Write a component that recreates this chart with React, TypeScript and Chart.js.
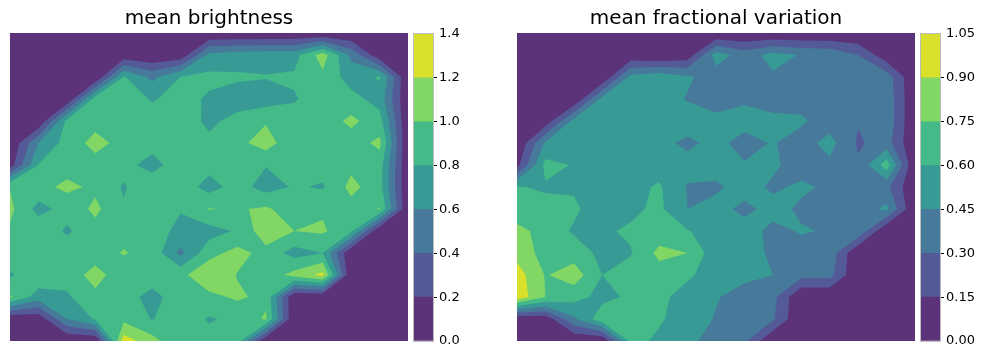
import { useEffect, useRef } from "react";
import { Chart, registerables } from "chart.js";

Chart.register(...registerables);

const bandColors = ["#5c3278", "#545a97", "#46799a", "#389a95", "#44ba88", "#82d664", "#d8e02c"];
const brightnessLevels = [0, 0.2, 0.4, 0.6, 0.8, 1.0, 1.2, 1.4];
const variationLevels = [0, 0.15, 0.3, 0.45, 0.6, 0.75, 0.9, 1.05];

const brightness: number[][] = [
  [0, 0, 0, 0, 0, 0, 0, 0, 0, 0, 0, 0, 0, 0, 0],
  [0, 0, 0, 0, 0.05, 0, 0.05, 0.65, 0.7, 0.72, 0.72, 1.1, 0.55, 0.05, 0],
  [0, 0, 0, 0, 0.82, 0.55, 0.8, 0.85, 0.83, 0.81, 0.83, 0.95, 0.71, 0.82, 0],
  [0, 0, 0, 0.9, 0.92, 0.78, 0.88, 0.77, 0.7, 0.7, 0.78, 0.92, 0.87, 0.72, 0],
  [0, 0, 0.85, 0.93, 0.93, 0.9, 0.93, 0.75, 0.87, 0.98, 0.9, 0.88, 1.05, 0.88, 0],
  [0, 0.6, 0.88, 1.07, 0.93, 0.88, 0.93, 0.85, 0.94, 1.1, 0.84, 0.92, 0.9, 1.05, 0],
  [0.1, 0.81, 0.91, 0.92, 0.87, 0.72, 0.92, 0.87, 0.93, 0.81, 0.92, 0.88, 0.95, 0.89, 0],
  [0.99, 0.93, 1.05, 0.96, 0.78, 0.95, 0.92, 0.72, 0.88, 0.72, 0.82, 0.78, 1.06, 0.88, 0],
  [1.05, 0.73, 0.87, 1.045, 0.82, 0.93, 0.82, 1.01, 0.98, 1.03, 0.9, 0.97, 0.92, 1.01, 0],
  [0.97, 0.95, 0.77, 0.93, 0.93, 0.93, 0.72, 0.72, 0.82, 1.13, 1.0, 1.03, 0.85, 0, 0],
  [0.93, 0.93, 0.92, 0.9, 1.015, 0.92, 0.55, 0.93, 1.07, 0.93, 0.72, 0.8, 0, 0, 0],
  [0.77, 0.95, 0.88, 1.08, 0.87, 0.95, 0.95, 1.15, 0.99, 0.88, 1.07, 1.26, 0, 0, 0],
  [1.03, 0.7, 0.77, 0.95, 0.92, 0.7, 0.96, 0.95, 1.03, 0.95, 0, 0, 0, 0, 0],
  [0.02, 0.05, 0.6, 0.82, 0.95, 0.79, 0.92, 0.78, 0.85, 1.03, 0, 0, 0, 0, 0],
  [0, 0, 0, 0, 1.3, 1.08, 0.82, 0.88, 0.9, 0, 0, 0, 0, 0, 0],
];

const fractionalVariation: number[][] = [
  [0, 0, 0, 0, 0, 0, 0, 0, 0, 0, 0, 0, 0, 0, 0],
  [0, 0, 0, 0, 0.03, 0, 0.05, 0.52, 0.38, 0.5, 0.44, 0.42, 0.3, 0.05, 0],
  [0, 0, 0, 0, 0.5, 0.55, 0.47, 0.38, 0.4, 0.43, 0.41, 0.4, 0.4, 0.38, 0],
  [0, 0, 0, 0.5, 0.54, 0.52, 0.44, 0.4, 0.43, 0.4, 0.4, 0.38, 0.4, 0.41, 0],
  [0, 0.05, 0.5, 0.55, 0.55, 0.55, 0.52, 0.48, 0.5, 0.48, 0.47, 0.38, 0.31, 0.41, 0],
  [0, 0.47, 0.56, 0.56, 0.55, 0.49, 0.42, 0.49, 0.4, 0.46, 0.39, 0.5, 0.28, 0.365, 0],
  [0.1, 0.65, 0.59, 0.55, 0.55, 0.53, 0.5, 0.5, 0.46, 0.47, 0.4, 0.42, 0.32, 0.68, 0],
  [0.61, 0.58, 0.58, 0.5, 0.55, 0.62, 0.44, 0.43, 0.5, 0.43, 0.47, 0.43, 0.38, 0.34, 0],
  [0.65, 0.65, 0.63, 0.5, 0.57, 0.63, 0.45, 0.49, 0.42, 0.49, 0.43, 0.4, 0.38, 0.48, 0],
  [0.8, 0.69, 0.58, 0.58, 0.62, 0.67, 0.61, 0.52, 0.5, 0.42, 0.46, 0.44, 0.42, 0, 0],
  [0.85, 0.69, 0.68, 0.56, 0.59, 0.79, 0.75, 0.5, 0.5, 0.43, 0.4, 0.4, 0, 0, 0],
  [0.97, 0.74, 0.83, 0.6, 0.66, 0.68, 0.62, 0.54, 0.48, 0.45, 0.35, 0.35, 0, 0, 0],
  [1.0, 0.75, 0.66, 0.55, 0.63, 0.63, 0.55, 0.46, 0.4, 0.35, 0, 0, 0, 0, 0],
  [0.02, 0.05, 0.42, 0.7, 0.68, 0.62, 0.52, 0.44, 0.38, 0.32, 0, 0, 0, 0, 0],
  [0, 0, 0, 0, 0.65, 0.57, 0.5, 0.37, 0.33, 0, 0, 0, 0, 0, 0],
];

const FONT = "'DejaVu Sans'";
type P = { x: number; y: number; v: number };

const cross = (a: P, b: P, level: number): P => {
  const t = (level - a.v) / (b.v - a.v);
  return { x: a.x + t * (b.x - a.x), y: a.y + t * (b.y - a.y), v: level };
};

function clip(poly: P[], level: number): P[] {
  const out: P[] = [];
  for (let i = 0; i < poly.length; i++) {
    const a = poly[i];
    const b = poly[(i + 1) % poly.length];
    const ain = a.v >= level;
    const bin = b.v >= level;
    if (ain) out.push(a);
    if (ain !== bin) out.push(cross(a, b, level));
  }
  return out;
}

// One grid cell cut at a level with straight lines between its edge crossings;
// the cell's mean value settles the two-way (saddle) case.
function cellPolygons(c: P[], level: number): P[][] {
  const inside = c.map((p) => p.v >= level);
  const saddle = inside[0] === inside[2] && inside[1] === inside[3] && inside[0] !== inside[1];
  if (saddle) {
    const mean = (c[0].v + c[1].v + c[2].v + c[3].v) / 4;
    if (mean < level) {
      const polys: P[][] = [];
      for (let s = 0; s < 4; s++) {
        if (!inside[s]) continue;
        polys.push([c[s], cross(c[s], c[(s + 1) % 4], level), cross(c[s], c[(s + 3) % 4], level)]);
      }
      return polys;
    }
  }
  const poly = clip(c, level);
  return poly.length < 3 ? [] : [poly];
}

function contourPlugin(grid: number[][], levels: number[]) {
  return {
    id: "filledContour",
    beforeDatasetsDraw(chart: any) {
      const { ctx, scales, chartArea } = chart;
      const px = (x: number) => scales.x.getPixelForValue(x);
      const py = (y: number) => scales.y.getPixelForValue(y);
      ctx.save();
      ctx.beginPath();
      ctx.rect(chartArea.left, chartArea.top, chartArea.width, chartArea.height);
      ctx.clip();
      ctx.fillStyle = bandColors[0];
      ctx.fillRect(chartArea.left, chartArea.top, chartArea.width, chartArea.height);
      for (let k = 1; k < levels.length - 1; k++) {
        const level = levels[k] - 1e-9;
        ctx.beginPath();
        for (let j = 0; j < grid.length - 1; j++) {
          for (let i = 0; i < grid[j].length - 1; i++) {
            const c: P[] = [
              { x: px(i), y: py(j), v: grid[j][i] },
              { x: px(i + 1), y: py(j), v: grid[j][i + 1] },
              { x: px(i + 1), y: py(j + 1), v: grid[j + 1][i + 1] },
              { x: px(i), y: py(j + 1), v: grid[j + 1][i] },
            ];
            for (const poly of cellPolygons(c, level)) {
              ctx.moveTo(poly[0].x, poly[0].y);
              for (let q = 1; q < poly.length; q++) ctx.lineTo(poly[q].x, poly[q].y);
              ctx.closePath();
            }
          }
        }
        ctx.fillStyle = bandColors[k];
        ctx.fill("nonzero");
      }
      ctx.restore();
    },
  };
}

function makePanel(canvas: HTMLCanvasElement, title: string, grid: number[][], levels: number[]) {
  const points = grid.flatMap((row, j) => row.map((v, i) => ({ x: i, y: j, v })));
  return new Chart(canvas, {
    type: "scatter",
    data: { datasets: [{ label: title, data: points, pointRadius: 0, pointHoverRadius: 0 }] },
    plugins: [contourPlugin(grid, levels)],
    options: {
      animation: false,
      responsive: false,
      layout: { padding: 0 },
      events: [],
      plugins: {
        legend: { display: false },
        tooltip: { enabled: false },
        title: {
          display: true,
          text: title,
          color: "#000",
          font: { family: FONT, size: 20, weight: "normal", lineHeight: 1.2 },
          padding: { top: 7, bottom: 2 },
        },
      },
      scales: {
        x: { type: "linear", display: false, min: 0, max: 14 },
        y: { type: "linear", display: false, min: 0, max: 14, reverse: true },
      },
    },
  } as any);
}

function makeColorbar(canvas: HTMLCanvasElement, levels: number[], digits: number, axisWidth: number) {
  const step = levels[1] - levels[0];
  const outline = {
    id: "barOutline",
    afterDatasetsDraw(chart: any) {
      const { ctx, chartArea: a } = chart;
      ctx.save();
      ctx.strokeStyle = "#bdbdbd";
      ctx.lineWidth = 1;
      ctx.strokeRect(a.left - 0.5, a.top - 0.5, a.width + 1, a.height + 1);
      ctx.restore();
    },
  };
  return new Chart(canvas, {
    type: "bar",
    data: {
      labels: ["band"],
      datasets: levels.slice(0, -1).map((lo, k) => ({
        label: `${lo}`,
        data: [[lo, levels[k + 1]]],
        backgroundColor: bandColors[k],
        borderWidth: 0,
        barPercentage: 1,
        categoryPercentage: 1,
      })),
    },
    plugins: [outline],
    options: {
      animation: false,
      responsive: false,
      events: [],
      layout: { padding: { top: 13, bottom: 12, left: 7, right: 0 } },
      plugins: { legend: { display: false }, tooltip: { enabled: false } },
      scales: {
        x: { display: false, stacked: true },
        y: {
          position: "right",
          min: levels[0],
          max: levels[levels.length - 1],
          afterFit: (s: any) => {
            s.width = axisWidth;
          },
          border: { display: false },
          grid: {
            drawOnChartArea: false,
            drawTicks: true,
            tickLength: 4,
            tickWidth: 1,
            color: (c: any) =>
              c.index === 0 || c.index === levels.length - 1 ? "rgba(0,0,0,0)" : "#000",
          },
          ticks: {
            stepSize: step,
            padding: 2,
            color: "#000",
            autoSkip: false,
            font: { family: FONT, size: 13 },
            callback: (v: any) => Number(v).toFixed(digits),
          },
        },
      },
    },
  } as any);
}

const abs = (left: number, top: number): React.CSSProperties => ({ position: "absolute", left, top });

export default function App() {
  const a = useRef<HTMLCanvasElement>(null);
  const b = useRef<HTMLCanvasElement>(null);
  const c = useRef<HTMLCanvasElement>(null);
  const d = useRef<HTMLCanvasElement>(null);
  useEffect(() => {
    const charts = [
      makePanel(a.current!, "mean brightness", brightness, brightnessLevels),
      makeColorbar(b.current!, brightnessLevels, 1, 34),
      makePanel(c.current!, "mean fractional variation", fractionalVariation, variationLevels),
      makeColorbar(d.current!, variationLevels, 2, 42),
    ];
    return () => charts.forEach((ch) => ch.destroy());
  }, []);
  return (
    <div>
      <canvas ref={a} width={398} height={341} style={abs(10, 0)} />
      <canvas ref={b} width={60} height={332} style={abs(407, 21)} />
      <canvas ref={c} width={398} height={341} style={abs(517, 0)} />
      <canvas ref={d} width={68} height={332} style={abs(914, 21)} />
    </div>
  );
}
